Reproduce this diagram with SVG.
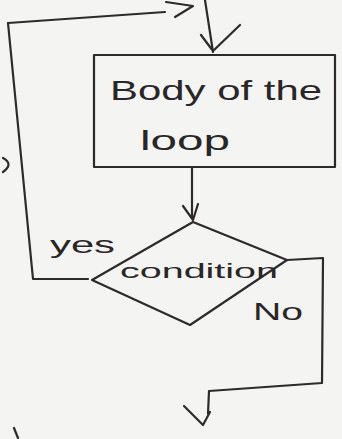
<svg xmlns="http://www.w3.org/2000/svg" width="342" height="439" viewBox="0 0 342 439">
<style>
.ln{fill:none;stroke:#2e2a2b;stroke-width:2.2;stroke-linecap:round;stroke-linejoin:round}
.tx{font-family:"Comic Sans MS","Liberation Sans",sans-serif;fill:#2a2627}
</style>
<rect width="342" height="439" fill="#f4f4f2"/>
<g id="connectors">
<path class="ln" d="M8,23 L165,12 M166,2 L193,6 L175,17"/>
<path class="ln" d="M8,23 L33,279 L88,279"/>
<path class="ln" d="M205,0 L213,52 M201,35 L213,51 L240,25"/>
<path class="ln" d="M192,167 L192,218 M183,206 L193,220 L198,204"/>
<path class="ln" d="M287,260 L323,258 L322,383 L209,391 L208,414 M184,406 Q196,418 203,425 L210,412"/>
<path class="ln" d="M3,158 Q14,164 3,172"/>
<path class="ln" d="M14,428 L18,438"/>
</g>
<g id="body">
<rect class="ln" x="94" y="55" width="241" height="112"/>
<text class="tx" x="110" y="100" font-size="28" textLength="212" lengthAdjust="spacingAndGlyphs">Body of the</text>
<text class="tx" x="140" y="150" font-size="28" textLength="90" lengthAdjust="spacingAndGlyphs">loop</text>
</g>
<g id="condition">
<path class="ln" d="M193,222 L287,260 L190,325 L92,280 Z"/>
<text class="tx" x="120" y="278" font-size="20" textLength="158" lengthAdjust="spacingAndGlyphs">condition</text>
</g>
<g id="labels">
<text class="tx" x="50" y="253" font-size="24" textLength="65" lengthAdjust="spacingAndGlyphs">yes</text>
<text class="tx" x="253" y="320" font-size="24" textLength="50" lengthAdjust="spacingAndGlyphs">No</text>
</g>
</svg>
